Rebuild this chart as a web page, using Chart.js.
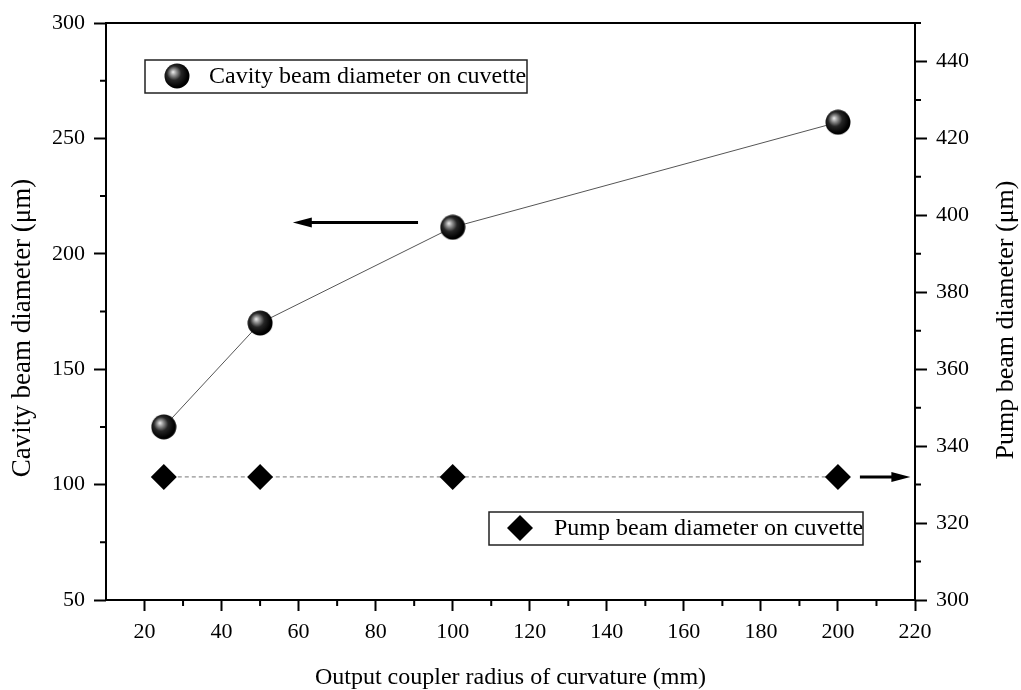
<!DOCTYPE html>
<html>
<head>
<meta charset="utf-8">
<script src="https://cdn.jsdelivr.net/npm/chart.js@4"></script>
<style>
  html, body { margin: 0; padding: 0; background: #fff; }
  #wrap { width: 1021px; height: 690px; position: relative; }
</style>
</head>
<body>
<div id="wrap"><canvas id="beamChart"></canvas></div>
<script>
// data
const radiusMm = [25, 50, 100, 200];
const cavityDiameter = [125, 170, 211.5, 257];
const pumpDiameter = [332, 332, 332, 332];

const xTitle = 'Output coupler radius of curvature (mm)';
const yTitle = 'Cavity beam diameter (\u03bcm)';
const y2Title = 'Pump beam diameter (\u03bcm)';
const cavityLabel = 'Cavity beam diameter on cuvette';
const pumpLabel = 'Pump beam diameter on cuvette';

const serif = "'Liberation Serif', 'Times New Roman', serif";
Chart.defaults.font.family = serif;
Chart.defaults.color = '#000';

// shaded sphere used as the cavity marker
const makeSphere = (d) => {
  const c = document.createElement('canvas');
  c.width = d; c.height = d;
  const g = c.getContext('2d');
  const r = d / 2;
  const grad = g.createRadialGradient(r - 4, r - 4, 0, r - 2, r - 2, r);
  grad.addColorStop(0, '#f0f0f0');
  grad.addColorStop(0.22, '#9a9a9a');
  grad.addColorStop(0.55, '#262626');
  grad.addColorStop(1, '#000');
  g.fillStyle = grad;
  g.beginPath();
  g.arc(r, r, r - 0.5, 0, Math.PI * 2);
  g.fill();
  return c;
};
const sphere = makeSphere(26);

const toPoints = (xs, ys) => xs.map((x, i) => ({ x: x, y: ys[i] }));

const arrow = (ctx, x1, y, x2) => {
  const dir = Math.sign(x2 - x1);
  ctx.save();
  ctx.strokeStyle = '#000';
  ctx.fillStyle = '#000';
  ctx.lineWidth = 3;
  ctx.beginPath();
  ctx.moveTo(x1, y);
  ctx.lineTo(x2 - dir * 14, y);
  ctx.stroke();
  ctx.beginPath();
  ctx.moveTo(x2, y);
  ctx.lineTo(x2 - dir * 19, y - 5);
  ctx.lineTo(x2 - dir * 19, y + 5);
  ctx.closePath();
  ctx.fill();
  ctx.restore();
};

const vText = (ctx, text, x, y, size) => {
  ctx.save();
  ctx.font = size + 'px ' + serif;
  ctx.fillStyle = '#000';
  ctx.textAlign = 'center';
  ctx.textBaseline = 'middle';
  ctx.translate(x, y);
  ctx.rotate(-Math.PI / 2);
  ctx.fillText(text, 0, 0);
  ctx.restore();
};

const extras = {
  id: 'extras',
  afterDatasetsDraw(chart) {
    const { ctx, chartArea: a, scales } = chart;
    const x = scales.x, y = scales.y, y2 = scales.y2;
    ctx.save();
    // frame
    ctx.strokeStyle = '#000';
    ctx.lineWidth = 2;
    ctx.strokeRect(a.left, a.top, a.right - a.left, a.bottom - a.top);
    // minor ticks
    ctx.beginPath();
    for (let v = 30; v < 220; v += 20) {
      const px = x.getPixelForValue(v);
      ctx.moveTo(px, a.bottom); ctx.lineTo(px, a.bottom + 6);
    }
    for (let v = 75; v < 300; v += 50) {
      const py = y.getPixelForValue(v);
      ctx.moveTo(a.left, py); ctx.lineTo(a.left - 6, py);
    }
    for (let v = 310; v <= 450; v += 20) {
      const py = y2.getPixelForValue(v);
      ctx.moveTo(a.right, py); ctx.lineTo(a.right + 6, py);
    }
    ctx.stroke();

    // arrows pointing to the matching axis
    arrow(ctx, x.getPixelForValue(91), y.getPixelForValue(213.6), x.getPixelForValue(58.5));
    arrow(ctx, x.getPixelForValue(205.7), y2.getPixelForValue(332), x.getPixelForValue(218.8));

    // legends
    ctx.font = '24px ' + serif;
    ctx.textBaseline = 'middle';
    ctx.textAlign = 'left';
    ctx.lineWidth = 1.5;
    ctx.strokeStyle = '#222';
    ctx.fillStyle = '#000';
    ctx.strokeRect(145, 60, 382, 33);
    ctx.drawImage(sphere, 177 - 13, 76 - 13);
    ctx.fillText(cavityLabel, 209, 77);

    ctx.strokeRect(489, 512, 374, 33);
    ctx.beginPath();
    ctx.moveTo(520, 528 - 13); ctx.lineTo(533, 528);
    ctx.lineTo(520, 528 + 13); ctx.lineTo(507, 528);
    ctx.closePath();
    ctx.fill();
    ctx.fillText(pumpLabel, 554, 529);
    ctx.restore();

    // vertical axis titles, both reading bottom to top
    vText(ctx, yTitle, 23, 328, 27);
    vText(ctx, y2Title, 1006, 320, 26);
  }
};

const beamCanvas = document.getElementById('beamChart');
const beamChart = new Chart(beamCanvas.getContext('2d'), {
  type: 'line',
  data: {
    datasets: [{
      label: cavityLabel,
      data: toPoints(radiusMm, cavityDiameter),
      yAxisID: 'y',
      borderColor: '#555',
      borderWidth: 1,
      pointStyle: sphere,
      pointRadius: 13,
      pointHoverRadius: 13,
      fill: false,
    }, {
      label: pumpLabel,
      data: toPoints(radiusMm, pumpDiameter),
      yAxisID: 'y2',
      borderColor: '#777',
      borderWidth: 1,
      borderDash: [4, 3],
      pointStyle: 'rectRot',
      pointRadius: 13,
      pointHoverRadius: 13,
      pointBackgroundColor: '#000',
      pointBorderColor: '#000',
      pointBorderWidth: 0,
      fill: false,
    }]
  },
  options: {
    responsive: true,
    maintainAspectRatio: false,
    animation: false,
    layout: { padding: { top: 23, left: 0, right: 0, bottom: 0 } },
    plugins: { legend: { display: false }, tooltip: { enabled: false } },
    scales: {
      x: {
        type: 'linear',
        position: 'bottom',
        min: 10,
        max: 220,
        afterFit: (s) => { s.height = 90; },
        border: { display: false },
        grid: {
          drawOnChartArea: false,
          tickLength: 11,
          tickWidth: 2,
          tickColor: (c) => (c.tick && c.tick.value % 20 === 0 ? '#000' : 'rgba(0,0,0,0)'),
        },
        ticks: {
          stepSize: 10,
          padding: 8,
          maxRotation: 0,
          autoSkip: false,
          font: { size: 22 },
          callback: (v) => (v % 20 === 0 ? v : ''),
        },
        title: {
          display: true,
          text: xTitle,
          font: { size: 24, lineHeight: 1 },
          padding: { top: 0, bottom: 0 },
        },
      },
      y: {
        position: 'left',
        min: 50,
        max: 300,
        afterFit: (s) => { s.width = 106; },
        border: { display: false },
        grid: { drawOnChartArea: false, tickLength: 12, tickWidth: 2, tickColor: '#000' },
        ticks: { stepSize: 50, padding: 9, font: { size: 22 } },
      },
      y2: {
        position: 'right',
        min: 300,
        max: 450,
        afterFit: (s) => { s.width = 106; },
        border: { display: false },
        grid: {
          drawOnChartArea: false,
          tickLength: 12,
          tickWidth: 2,
          tickColor: (c) => (c.tick && c.tick.value % 20 === 0 ? '#000' : 'rgba(0,0,0,0)'),
        },
        ticks: {
          stepSize: 10,
          padding: 9,
          autoSkip: false,
          font: { size: 22 },
          callback: (v) => (v % 20 === 0 ? v : ''),
        },
      },
    }
  },
  plugins: [extras]
});
</script>
</body>
</html>
